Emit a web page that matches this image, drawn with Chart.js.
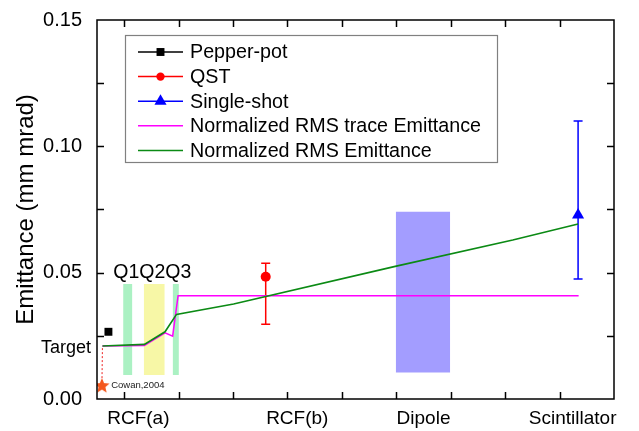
<!DOCTYPE html>
<html>
<head>
<meta charset="utf-8">
<script src="https://cdn.jsdelivr.net/npm/chart.js@4.4.1/dist/chart.umd.min.js"></script>
<style>
  html, body { margin: 0; padding: 0; background: #fff; }
</style>
</head>
<body>
<canvas id="chart" width="639" height="431"></canvas>
<script>
// x is a position along the beamline (tick spacing = 1), y is emittance in mm mrad
const axisNames = ["RCF(a)", "RCF(b)", "Dipole", "Scintillator"];
const axisNamePos = [0.26, 3.18, 5.5, 8.24];
const yTicks = [0, 0.05, 0.10, 0.15];

const rmsX = [-0.40, 0.37, 0.75, 0.96, 2.01, 5.0, 7.14, 8.34];
const rmsY = [0.0210, 0.0216, 0.0266, 0.0335, 0.0376, 0.0526, 0.0629, 0.0693];

const traceX = [-0.40, 0.37, 0.75, 0.89, 0.99, 8.35];
const traceY = [0.0210, 0.0212, 0.0262, 0.0249, 0.0409, 0.0409];

const pepperX = [-0.29];
const pepperY = [0.0266];

const qstX = [2.60];
const qstY = [0.0484];
const qstLo = [0.0296];
const qstHi = [0.0537];

const shotX = [8.34];
const shotY = [0.0728];
const shotLo = [0.0475];
const shotHi = [0.110];

const cowanX = [-0.41];
const cowanY = [0.0051];

// shaded elements: [x0, x1] with [yBottom, yTop]
const quadBands = [[-0.02, 0.15], [0.36, 0.745], [0.89, 1.005]];
const quadRange = [0.0095, 0.0455];
const dipoleBand = [4.99, 5.99];
const dipoleRange = [0.0105, 0.0741];

const legendNames = ["Pepper-pot", "QST", "Single-shot", "Normalized RMS trace Emittance", "Normalized RMS Emittance"];

const FONT = "'Liberation Sans', Arial, Helvetica, sans-serif";
const green = "#0b8a14";
const magenta = "#ff00ff";

let zip = (xs, ys) => xs.map((x, i) => ({ x: x, y: ys[i] }));

function starImage(r, color) {
  const c = document.createElement("canvas");
  c.width = c.height = 2 * r + 2;
  const g = c.getContext("2d");
  g.beginPath();
  for (let i = 0; i < 10; i++) {
    const rad = i % 2 ? r * 0.45 : r;
    const a = -Math.PI / 2 + i * Math.PI / 5;
    g.lineTo(c.width / 2 + rad * Math.cos(a), c.height / 2 + rad * Math.sin(a));
  }
  g.closePath();
  g.fillStyle = color;
  g.fill();
  return c;
}

let band = (x0, x1, lo, hi, color) => ({
  type: "line",
  data: [{ x: x0, y: hi }, { x: x1, y: hi }],
  fill: { value: lo },
  backgroundColor: color,
  borderWidth: 0,
  pointRadius: 0,
  order: 10,
});

const datasets = [
  ...quadBands.map((b, i) => band(b[0], b[1], quadRange[0], quadRange[1], i == 1 ? "rgba(246,246,150,0.85)" : "rgba(150,238,180,0.8)")),
  band(dipoleBand[0], dipoleBand[1], dipoleRange[0], dipoleRange[1], "rgba(150,144,255,0.88)"),
  {
    label: "Normalized RMS Emittance",
    data: zip(rmsX, rmsY),
    borderColor: green, borderWidth: 1.6, pointRadius: 0, tension: 0, order: 2,
  },
  {
    label: "Normalized RMS trace Emittance",
    data: zip(traceX, traceY),
    borderColor: magenta, borderWidth: 1.5, pointRadius: 0, tension: 0, order: 3,
  },
  {
    label: "Cowan link",
    data: [{ x: cowanX[0], y: cowanY[0] }, { x: rmsX[0], y: rmsY[0] }],
    borderColor: "#ee2222", borderWidth: 1, borderDash: [2, 2], pointRadius: 0, order: 4,
  },
  {
    label: "Cowan,2004",
    data: zip(cowanX, cowanY),
    showLine: false, pointStyle: starImage(8, "#f4581e"), order: 0,
  },
  {
    label: "Pepper-pot",
    data: zip(pepperX, pepperY),
    showLine: false, pointStyle: "rect", pointRadius: 5.6,
    backgroundColor: "#000", borderColor: "#000", borderWidth: 0, order: 0,
  },
  {
    label: "QST",
    data: zip(qstX, qstY).map((p, i) => ({ ...p, lo: qstLo[i], hi: qstHi[i] })),
    showLine: false, pointStyle: "circle", pointRadius: 5,
    backgroundColor: "#ff0000", borderColor: "#ff0000", borderWidth: 0, order: 0,
    errColor: "#ff0000",
  },
  {
    label: "Single-shot",
    data: zip(shotX, shotY).map((p, i) => ({ ...p, lo: shotLo[i], hi: shotHi[i] })),
    showLine: false, pointStyle: "triangle", pointRadius: 7,
    backgroundColor: "#0000ff", borderColor: "#0000ff", borderWidth: 0, order: 0,
    errColor: "#0000ff",
  },
];

// error bars, inward tick marks on all four sides, labels and the legend box
const extras = {
  id: "extras",
  beforeDatasetsDraw(chart) {
    const { ctx } = chart;
    ctx.save();
    chart.data.datasets.forEach((ds) => {
      if (!ds.errColor) return;
      ds.data.forEach((p) => {
        const x = chart.scales.x.getPixelForValue(p.x);
        const y0 = chart.scales.y.getPixelForValue(p.lo);
        const y1 = chart.scales.y.getPixelForValue(p.hi);
        ctx.strokeStyle = ds.errColor;
        ctx.lineWidth = 1.5;
        ctx.beginPath();
        ctx.moveTo(x, y0); ctx.lineTo(x, y1);
        ctx.moveTo(x - 4.5, y0); ctx.lineTo(x + 4.5, y0);
        ctx.moveTo(x - 4.5, y1); ctx.lineTo(x + 4.5, y1);
        ctx.stroke();
      });
    });
    ctx.restore();
  },
  afterDraw(chart) {
    const { ctx, chartArea: a } = chart;
    const sx = chart.scales.x, sy = chart.scales.y;
    ctx.save();
    ctx.strokeStyle = "#000";
    ctx.lineWidth = 1.5;
    ctx.strokeRect(a.left, a.top, a.right - a.left, a.bottom - a.top);
    ctx.beginPath();
    for (let v = 0; v <= 8; v++) {
      const x = Math.round(sx.getPixelForValue(v)) + 0.5;
      ctx.moveTo(x, a.bottom); ctx.lineTo(x, a.bottom - 7);
      ctx.moveTo(x, a.top); ctx.lineTo(x, a.top + 7);
    }
    for (let v = 0.025; v < 0.15; v += 0.025) {
      const y = Math.round(sy.getPixelForValue(v)) + 0.5;
      ctx.moveTo(a.left, y); ctx.lineTo(a.left + 7, y);
      ctx.moveTo(a.right, y); ctx.lineTo(a.right - 7, y);
    }
    ctx.stroke();

    // text notes
    ctx.fillStyle = "#000";
    ctx.textBaseline = "middle";
    ctx.font = "18px " + FONT;
    ctx.textAlign = "right";
    ctx.fillText("Target", a.left - 6, sy.getPixelForValue(0.0200));
    ctx.textAlign = "center";
    ctx.font = "19.5px " + FONT;
    ctx.fillText("Q1Q2Q3", sx.getPixelForValue(0.515), sy.getPixelForValue(0.0502));
    ctx.textAlign = "left";
    ctx.font = "9.5px " + FONT;
    ctx.fillStyle = "#222";
    ctx.fillText("Cowan,2004", sx.getPixelForValue(-0.24), sy.getPixelForValue(0.0054));

    // legend
    const L = 125, T = 35, W = 372, H = 127;
    ctx.fillStyle = "#fff";
    ctx.fillRect(L, T, W, H);
    ctx.strokeStyle = "#808080";
    ctx.lineWidth = 1.2;
    ctx.strokeRect(L + 0.5, T + 0.5, W, H);
    const marks = [
      { color: "#000", style: "rect", r: 5.6 },
      { color: "#ff0000", style: "circle", r: 4.2 },
      { color: "#0000ff", style: "triangle", r: 7 },
      { color: magenta, style: null },
      { color: green, style: null },
    ];
    legendNames.forEach((name, i) => {
      const y = T + 17 + i * 24.6;
      const m = marks[i];
      ctx.strokeStyle = m.color;
      ctx.lineWidth = 1.5;
      ctx.beginPath();
      ctx.moveTo(138, y); ctx.lineTo(183, y);
      ctx.stroke();
      if (m.style) {
        ctx.fillStyle = m.color;
        Chart.helpers.drawPoint(ctx, { pointStyle: m.style, radius: m.r, rotation: 0, borderWidth: 0 }, 160.5, y);
      }
      ctx.fillStyle = "#000";
      ctx.textAlign = "left";
      ctx.textBaseline = "middle";
      ctx.font = "19.7px " + FONT;
      ctx.fillText(name, 190, y + 1);
    });
    ctx.restore();
  },
};

// keep the plot box fixed: no extra room for overhanging tick labels
let noPad = (s) => { s.paddingTop = s.paddingBottom = s.paddingLeft = s.paddingRight = 0; };

new Chart(document.getElementById("chart"), {
  type: "line",
  data: { datasets: datasets },
  plugins: [extras],
  options: {
    responsive: false,
    animation: false,
    devicePixelRatio: 1,
    layout: { padding: { top: 20, right: 25, left: 0, bottom: 0 } },
    plugins: { legend: { display: false }, tooltip: { enabled: false } },
    scales: {
      x: {
        type: "linear",
        min: -0.5,
        max: 9,
        afterBuildTicks: (s) => { s.ticks = axisNamePos.map((v) => ({ value: v })); },
        afterFit: (s) => { s.height = 32; noPad(s); },
        grid: { display: false, drawTicks: false },
        border: { display: false },
        ticks: {
          autoSkip: false,
          maxRotation: 0,
          padding: 8,
          color: "#000",
          font: { family: FONT, size: 19 },
          callback: (v, i) => axisNames[i],
        },
      },
      y: {
        min: 0,
        max: 0.15,
        afterBuildTicks: (s) => { s.ticks = yTicks.map((v) => ({ value: v })); },
        afterFit: (s) => { s.width = 97; noPad(s); },
        grid: { display: false, drawTicks: false },
        border: { display: false },
        ticks: {
          padding: 15,
          color: "#000",
          font: { family: FONT, size: 20 },
          callback: (v) => v.toFixed(2),
        },
        title: {
          display: true,
          text: "Emittance (mm mrad)",
          color: "#000",
          font: { family: FONT, size: 24 },
          padding: { top: 12, bottom: 0 },
        },
      },
    },
  },
});
</script>
</body>
</html>
